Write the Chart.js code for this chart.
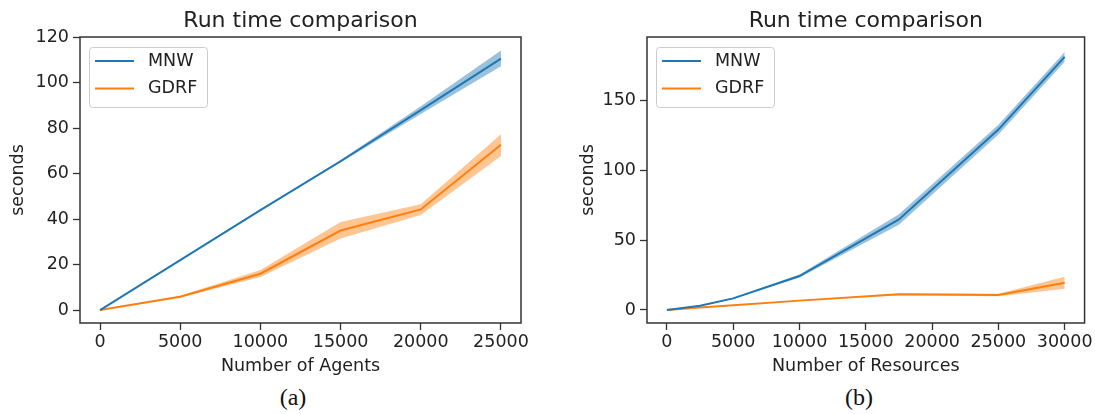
<!DOCTYPE html>
<html>
<head>
<meta charset="utf-8">
<script src="https://cdn.jsdelivr.net/npm/chart.js@4"></script>
<style>
  body { margin: 0; background: #fff; }
  #wrap { position: relative; width: 1095px; height: 414px; background: #fff; overflow: hidden; }
  canvas { position: absolute; top: 0; }
  .cap { position: absolute; top: 384px; width: 80px; text-align: center;
         font-family: "Liberation Serif", "DejaVu Serif", serif; font-size: 24px; color: #111; }
</style>
</head>
<body>
<div id="wrap">
  <canvas id="left" width="548" height="380" style="left:0px"></canvas>
  <canvas id="right" width="525" height="380" style="left:570px"></canvas>
  <div class="cap" style="left:253px">(a)</div>
  <div class="cap" style="left:819px">(b)</div>
</div>
<script>
// (a) run time vs number of agents
const agents = [0, 5000, 10000, 15000, 20000, 25000];
const mnwAgents   = [0, 22.0, 44.0, 65.5, 88.0, 110.7];
const mnwAgentsLo = [0, 21.8, 43.7, 65.0, 86.3, 107.3];
const mnwAgentsHi = [0, 22.2, 44.3, 66.0, 89.7, 114.3];
const gdrfAgents   = [0, 5.9, 16.0, 35.0, 44.3, 72.8];
const gdrfAgentsLo = [0, 5.5, 14.6, 31.5, 41.8, 67.8];
const gdrfAgentsHi = [0, 6.3, 17.6, 38.8, 46.6, 77.4];
const xTicksA = [0, 5000, 10000, 15000, 20000, 25000];
const yTicksA = [0, 20, 40, 60, 80, 100, 120];

// (b) run time vs number of resources
const resources = [0, 2500, 5000, 10000, 17500, 25000, 30000];
const mnwRes   = [0, 3.0, 8.3, 24.3, 64.8, 129.0, 181.0];
const mnwResLo = [0, 2.8, 7.8, 23.3, 61.0, 125.5, 177.5];
const mnwResHi = [0, 3.2, 8.8, 25.3, 68.5, 132.5, 184.5];
const gdrfRes   = [0, 1.7, 3.4, 6.7, 11.2, 10.7, 19.5];
const gdrfResLo = [0, 1.6, 3.2, 6.4, 10.6, 9.8, 15.2];
const gdrfResHi = [0, 1.8, 3.6, 7.0, 11.8, 11.6, 23.8];
const xTicksB = [0, 5000, 10000, 15000, 20000, 25000, 30000];
const yTicksB = [0, 50, 100, 150];

const seriesNames = ['MNW', 'GDRF'];
const blue = '#1f77b4', orange = '#ff7f0e';
const blueBand = 'rgba(31,119,180,0.45)', orangeBand = 'rgba(255,127,14,0.45)';

Chart.defaults.font.family = 'DejaVu Sans';
Chart.defaults.font.size = 17.5;
Chart.defaults.color = '#222';

function pts(xs, ys) { return xs.map((x, i) => ({x: x, y: ys[i]})); }

function band(xs, lo, hi, color) {
  return [
    {data: pts(xs, lo), borderWidth: 0, pointRadius: 0, fill: false, backgroundColor: color},
    {data: pts(xs, hi), borderWidth: 0, pointRadius: 0, fill: '-1', backgroundColor: color}
  ];
}

function line(xs, ys, label, color) {
  return {label: label, data: pts(xs, ys), borderColor: color, borderWidth: 2,
          pointRadius: 0, fill: false, tension: 0};
}

// matplotlib-like box around the axes
const framePlugin = {
  id: 'frame',
  afterDatasetsDraw(chart) {
    const a = chart.chartArea, c = chart.ctx;
    c.save();
    c.strokeStyle = '#333';
    c.lineWidth = 1.5;
    c.strokeRect(a.left, a.top, a.right - a.left, a.bottom - a.top);
    c.restore();
  }
};

// legend box in the upper left of the axes
const legendPlugin = {
  id: 'boxLegend',
  afterDraw(chart) {
    const a = chart.chartArea, c = chart.ctx;
    const items = chart.data.datasets.filter(d => d.label);
    const bx = a.left + 9, by = a.top + 10, bw = 118, bh = 60;
    c.save();
    c.fillStyle = 'rgba(255,255,255,0.8)';
    c.strokeStyle = '#ccc';
    c.lineWidth = 1;
    c.beginPath();
    c.roundRect(bx + 0.5, by + 0.5, bw, bh, 3);
    c.fill();
    c.stroke();
    c.font = '17.5px "DejaVu Sans"';
    c.textBaseline = 'middle';
    c.fillStyle = '#222';
    items.forEach((d, i) => {
      const y = by + 14 + i * 27.6;
      c.strokeStyle = d.borderColor;
      c.lineWidth = 2;
      c.beginPath();
      c.moveTo(bx + 6, y);
      c.lineTo(bx + 45, y);
      c.stroke();
      c.fillText(d.label, bx + 59, y);
    });
    c.restore();
  }
};

function makeChart(id, xs, mnw, mnwLo, mnwHi, gdrf, gdrfLo, gdrfHi, xTicks, yTicks,
                   xMin, xMax, yMin, yMax, xTitle, yAxisW, padRight) {
  return new Chart(document.getElementById(id), {
    type: 'line',
    data: {
      datasets: [
        line(xs, mnw, seriesNames[0], blue),
        line(xs, gdrf, seriesNames[1], orange),
        ...band(xs, mnwLo, mnwHi, blueBand),
        ...band(xs, gdrfLo, gdrfHi, orangeBand)
      ]
    },
    options: {
      responsive: false,
      animation: false,
      layout: {padding: {left: 0, right: padRight, top: 0, bottom: 0}},
      plugins: {
        legend: {display: false},
        tooltip: {enabled: false},
        title: {
          display: true, text: 'Run time comparison', fullSize: false,
          font: {size: 22, weight: 'normal'}, color: '#222',
          padding: {top: 8.5, bottom: 2.1}
        }
      },
      scales: {
        x: {
          type: 'linear', min: xMin, max: xMax,
          afterBuildTicks: s => { s.ticks = xTicks.map(v => ({value: v})); },
          afterFit: s => { s.height = 57; },
          ticks: {autoSkip: false, maxRotation: 0, padding: 2, color: '#222',
                  callback: v => String(v)},
          grid: {drawOnChartArea: false, tickLength: 7, tickColor: '#333', tickWidth: 1.3},
          border: {display: false},
          title: {display: true, text: xTitle, color: '#222', padding: {top: 0, bottom: 3.5}}
        },
        y: {
          min: yMin, max: yMax,
          afterBuildTicks: s => { s.ticks = yTicks.map(v => ({value: v})); },
          afterFit: s => { s.width = yAxisW; },
          ticks: {padding: 4, color: '#222', callback: v => String(v)},
          grid: {drawOnChartArea: false, tickLength: 7, tickColor: '#333', tickWidth: 1.3},
          border: {display: false},
          title: {display: true, text: 'seconds', color: '#222', padding: {top: 7.5, bottom: 0}}
        }
      }
    },
    plugins: [framePlugin, legendPlugin]
  });
}

makeChart('left', agents, mnwAgents, mnwAgentsLo, mnwAgentsHi,
          gdrfAgents, gdrfAgentsLo, gdrfAgentsHi, xTicksA, yTicksA,
          -1250, 26250, -5.7, 120.2, 'Number of Agents', 80, 27);
makeChart('right', resources, mnwRes, mnwResLo, mnwResHi,
          gdrfRes, gdrfResLo, gdrfResHi, xTicksB, yTicksB,
          -1500, 31500, -9.3, 195.2, 'Number of Resources', 77, 8);
</script>
</body>
</html>
